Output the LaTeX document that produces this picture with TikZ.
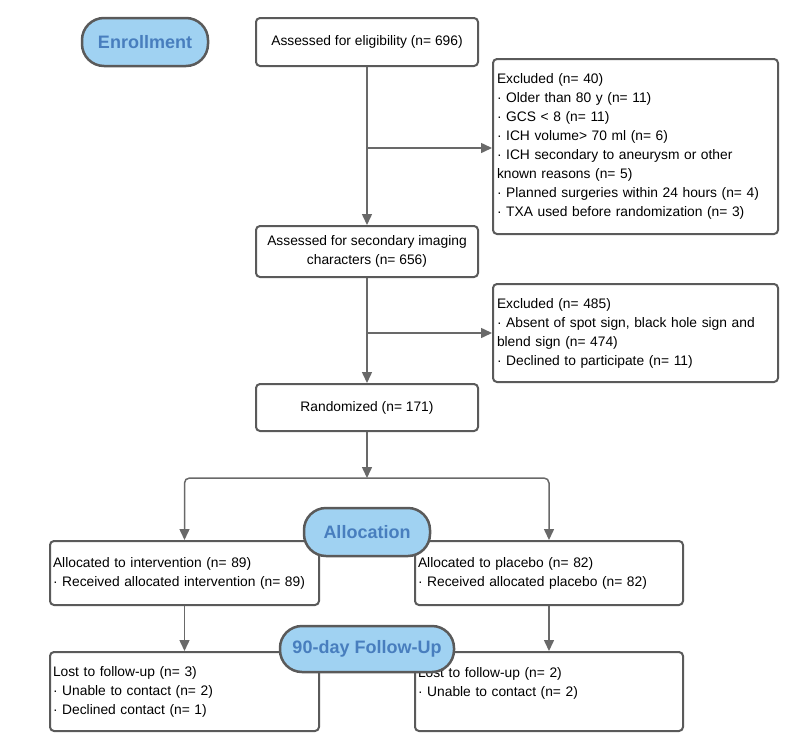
\documentclass[tikz,border=0pt]{standalone}
\usepackage{fontspec}
\setmainfont{Liberation Sans}
\usetikzlibrary{positioning,arrows.meta}
\definecolor{boxline}{RGB}{90,90,90}
\definecolor{arrowline}{RGB}{105,105,105}
\definecolor{pillfill}{RGB}{160,210,242}
\definecolor{pilltext}{RGB}{72,126,190}

\begin{document}
\begin{tikzpicture}[
  x=1pt, y=-1pt,
  box/.style={rectangle,draw=boxline,rounded corners=4pt,line width=2pt,
              fill=white,font=\fontsize{13.8}{19}\selectfont,
              inner xsep=4pt, inner ysep=0pt},
  cbox/.style={box, align=center, minimum width=222pt},
  lbox/.style={box, align=left, text width=#1},
  pill/.style={rectangle,rounded corners=22pt,draw=boxline,line width=2.5pt,
               fill=pillfill, text=pilltext,
               font=\fontsize{18}{18}\selectfont\bfseries},
  arr/.style={draw=arrowline, line width=1.5pt,
              -{Triangle[length=11pt,width=10pt]}}
]
  \useasboundingbox (0,0) rectangle (796,745);

  \node[cbox, minimum height=48pt] (elig) at (367,42)
       {Assessed for eligibility (n= 696)};
  \node[lbox=277pt, minimum height=175pt] (excl1) at (635.5,146.5)
       {Excluded (n= 40)\\
        · Older than 80 y (n= 11)\\
        · GCS < 8 (n= 11)\\
        · ICH volume> 70 ml (n= 6)\\
        · ICH secondary to aneurysm or other\\
        known reasons (n= 5)\\
        · Planned surgeries within 24 hours (n= 4)\\
        · TXA used before randomization (n= 3)};
  \node[cbox, minimum height=51pt] (second) at (367,251.5)
       {Assessed for secondary imaging\\characters (n= 656)};
  \node[lbox=277pt, minimum height=98pt] (excl2) at (635.5,333)
       {Excluded (n= 485)\\
        · Absent of spot sign, black hole sign and\\
        blend sign (n= 474)\\
        · Declined to participate (n= 11)};
  \node[cbox, minimum height=47pt] (rand) at (367,407.5)
       {Randomized (n= 171)};

  \node[lbox=263pt, inner xsep=3pt, minimum height=64pt] (allocL) at (184.5,573)
       {Allocated to intervention (n= 89)\\
        · Received allocated intervention (n= 89)};
  \node[lbox=262pt, inner xsep=3pt, minimum height=64pt] (allocR) at (549,573)
       {Allocated to placebo (n= 82)\\
        · Received allocated placebo (n= 82)};
  \node[lbox=263pt, inner xsep=3pt, minimum height=79pt] (lostL) at (184.5,691.5)
       {Lost to follow-up (n= 3)\\
        · Unable to contact (n= 2)\\
        · Declined contact (n= 1)};
  \node[lbox=262pt, inner xsep=3pt, minimum height=79pt] (lostR) at (549,691.5)
       {Lost to follow-up (n= 2)\\
        · Unable to contact (n= 2)\\ \mbox{}};

  \coordinate (c1) at (367,148);
  \coordinate (c2) at (367,333);
  \coordinate (split) at (367,478);

  \draw[arr] (elig) -- (second);
  \draw[arr] (c1) -- (c1 -| excl1.west);
  \draw[arr] (second) -- (rand);
  \draw[arr] (c2) -- (c2 -| excl2.west);
  \draw[arr] (rand) -- (split);
  \draw[arr, rounded corners=5pt] (split) -| (allocL);
  \draw[arr, rounded corners=5pt] (split) -| (allocR);
  \draw[arr] (allocL) -- (lostL);
  \draw[arr] (allocR) -- (lostR);

  % stage labels
  \node[pill, minimum width=126pt, minimum height=48pt] (enroll) at (145,42) {Enrollment};
  \node[pill, minimum width=126pt, minimum height=48pt] (alloc) at (367,532) {Allocation};
  \node[pill, minimum width=174pt, minimum height=46pt] (follow) at (367,649) {90-day Follow-Up};
\end{tikzpicture}
\end{document}
